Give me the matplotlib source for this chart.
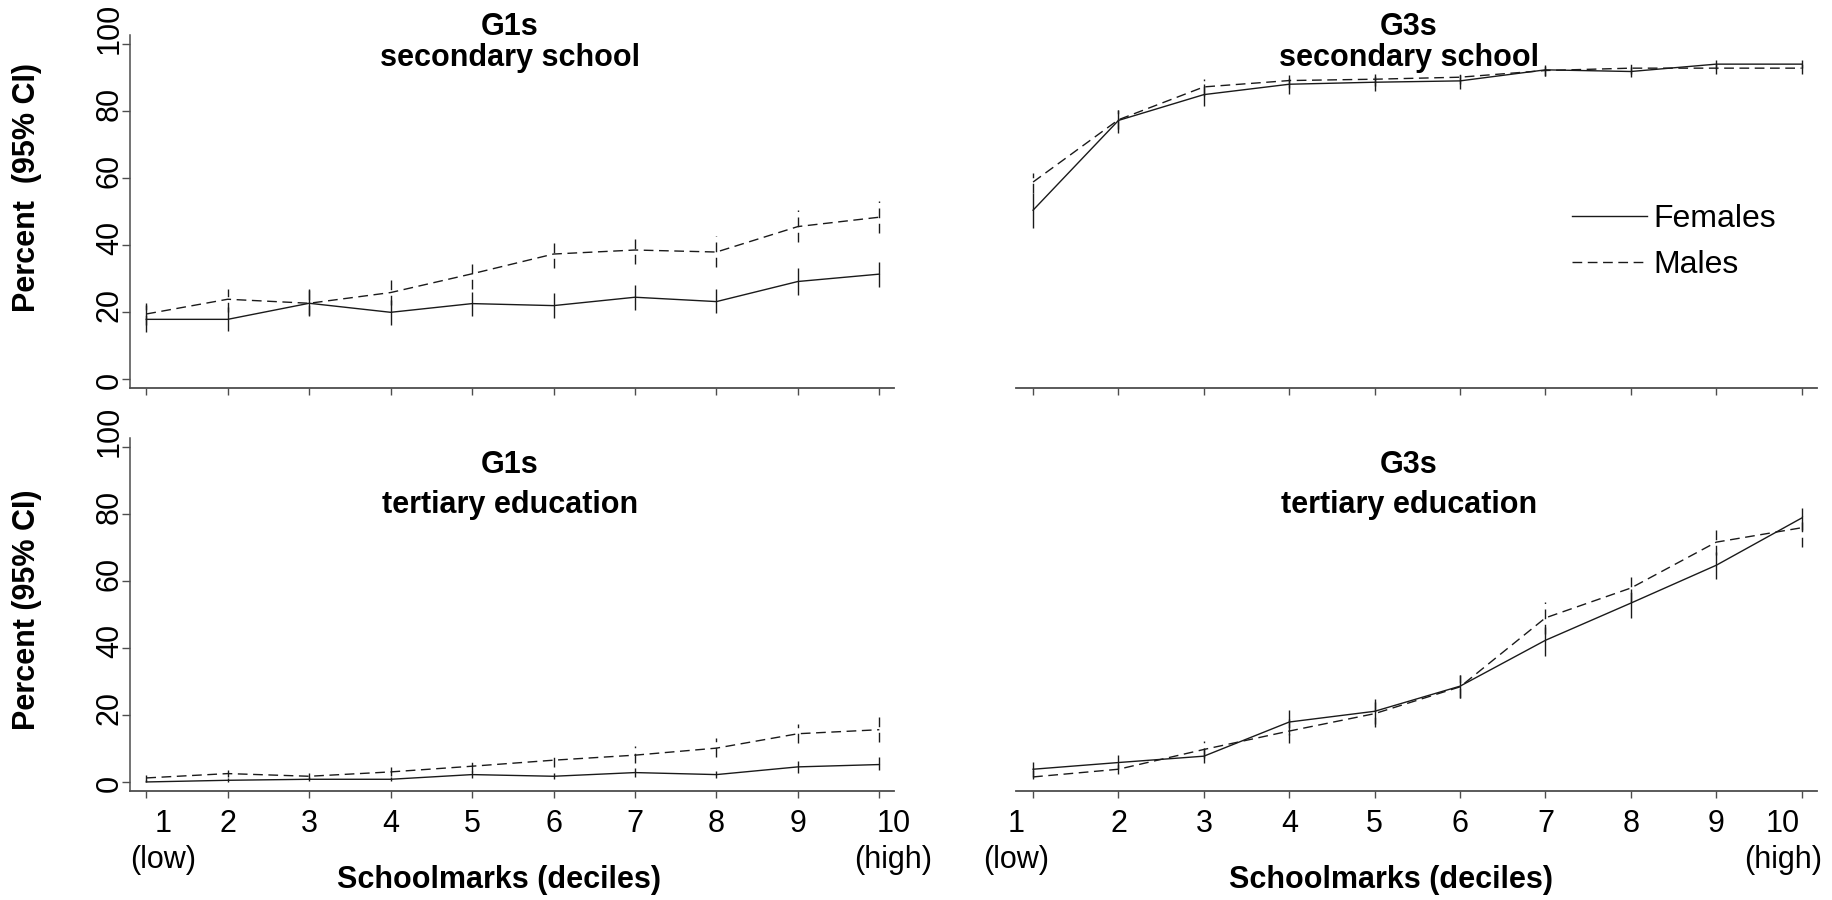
import numpy as np
import matplotlib
matplotlib.use('Agg')
import matplotlib.pyplot as plt
from matplotlib.transforms import ScaledTranslation

plt.rcParams['font.family'] = ['Liberation Sans', 'DejaVu Sans']

# deciles of schoolmarks
deciles = np.arange(1, 11)
tick_labels = ['1\n(low)', '2', '3', '4', '5', '6', '7', '8', '9', '10\n(high)']
y_ticks = [0, 20, 40, 60, 80, 100]

# G1s, secondary school
g1_sec_f = [17.8, 17.8, 22.6, 19.9, 22.5, 21.9, 24.4, 23.1, 29.1, 31.3]
g1_sec_f_lo = [14.0, 14.2, 18.8, 16.2, 18.8, 18.2, 20.6, 19.6, 25.2, 27.6]
g1_sec_f_hi = [22.0, 21.6, 26.8, 23.6, 26.0, 25.6, 28.2, 26.8, 33.0, 35.0]
g1_sec_m = [19.4, 23.8, 22.6, 25.8, 31.4, 37.3, 38.5, 37.9, 45.5, 48.3]
g1_sec_m_lo = [16.0, 20.0, 19.0, 22.0, 27.0, 33.0, 34.2, 33.5, 41.0, 43.5]
g1_sec_m_hi = [22.6, 26.8, 26.6, 29.6, 35.6, 41.7, 43.0, 42.7, 50.5, 53.2]

# G3s, secondary school
g3_sec_f = [50.4, 77.2, 84.9, 88.0, 88.6, 89.0, 92.3, 91.8, 94.0, 94.0]
g3_sec_f_lo = [45.0, 73.5, 81.4, 85.0, 86.0, 86.7, 90.6, 90.2, 92.6, 92.8]
g3_sec_f_hi = [55.6, 80.4, 88.0, 90.8, 91.2, 90.8, 93.8, 93.2, 95.2, 95.2]
g3_sec_m = [58.8, 77.4, 87.2, 89.1, 89.5, 90.1, 92.1, 92.8, 92.8, 92.8]
g3_sec_m_lo = [55.5, 74.5, 84.5, 87.0, 87.5, 88.0, 90.5, 91.2, 91.0, 91.0]
g3_sec_m_hi = [61.5, 80.2, 89.5, 91.0, 91.5, 92.0, 93.8, 94.3, 94.5, 94.5]

# G1s, tertiary education
g1_ter_f = [0.0, 0.5, 0.8, 0.8, 2.2, 1.7, 2.8, 2.2, 4.5, 5.2]
g1_ter_f_lo = [0.0, 0.0, 0.2, 0.2, 1.2, 0.8, 1.6, 1.2, 2.8, 3.5]
g1_ter_f_hi = [0.6, 1.2, 1.6, 1.6, 3.4, 2.8, 4.2, 3.4, 6.4, 7.4]
g1_ter_m = [1.2, 2.5, 1.7, 3.0, 4.7, 6.5, 8.0, 10.1, 14.4, 15.6]
g1_ter_m_lo = [0.4, 1.4, 0.8, 1.8, 3.0, 4.5, 5.6, 7.5, 11.6, 12.0]
g1_ter_m_hi = [2.2, 3.6, 2.6, 4.4, 6.6, 8.6, 10.6, 13.0, 17.2, 19.6]

# G3s, tertiary education
g3_ter_f = [3.8, 5.8, 7.7, 17.9, 21.1, 28.6, 42.3, 53.4, 64.7, 78.8]
g3_ter_f_lo = [1.5, 4.0, 5.7, 14.0, 17.4, 25.0, 37.5, 49.0, 60.7, 75.1]
g3_ter_f_hi = [6.0, 8.0, 10.0, 21.6, 24.9, 32.0, 46.3, 57.5, 68.7, 81.8]
g3_ter_m = [1.5, 3.8, 9.7, 15.2, 20.4, 28.4, 49.0, 57.9, 71.6, 75.9]
g3_ter_m_lo = [0.8, 2.5, 7.3, 11.6, 16.4, 25.0, 44.3, 53.7, 67.7, 70.3]
g3_ter_m_hi = [3.5, 5.5, 12.2, 18.9, 25.2, 32.0, 53.7, 62.2, 75.9, 79.5]

W, H = 1833, 900
line_c = '#1a1a1a'
axis_c = '#4d4d4d'
dash = (0, (7, 4))


def px_box(x0, y0, x1, y1):
    # pixel box (top-left origin) -> figure fraction rect
    return [x0 / W, 1 - y1 / H, (x1 - x0) / W, (y1 - y0) / H]


def shift(label, dx, dy):
    label.set_transform(label.get_transform() +
                        ScaledTranslation(dx / 100, dy / 100, fig.dpi_scale_trans))


def draw_panel(ax, f, f_lo, f_hi, m, m_lo, m_hi, left, bottom):
    ax.plot(deciles, f, color=line_c, lw=1.0, label='Females')
    ax.vlines(deciles, f_lo, f_hi, color=line_c, lw=1.0)
    ax.plot(deciles, m, color=line_c, lw=1.0, linestyle=dash, label='Males')
    ax.vlines(deciles, m_lo, m_hi, color=line_c, lw=1.0, linestyles=[dash])

    ax.set_xlim(0.8, 10.18)
    ax.set_ylim(-2.7, 102.7)
    ax.spines['top'].set_visible(False)
    ax.spines['right'].set_visible(False)
    ax.spines['bottom'].set_color(axis_c)
    ax.spines['bottom'].set_linewidth(1.3)
    ax.spines['left'].set_color(axis_c)
    ax.spines['left'].set_linewidth(1.1)

    ax.set_xticks(deciles)
    ax.set_xticklabels(tick_labels, fontsize=22, linespacing=1.25)
    ax.tick_params(axis='x', direction='out', length=5, width=1,
                   color=axis_c, pad=8, labelbottom=bottom)

    ax.set_yticks(y_ticks)
    ax.set_yticklabels([str(v) for v in y_ticks], fontsize=22, rotation=90,
                       rotation_mode='anchor', ha='left', va='baseline')
    ax.tick_params(axis='y', direction='out', length=6, width=1,
                   color=axis_c, pad=2.7)
    if left:
        # labels start a little below their tick, as in Stata
        for lab in ax.get_yticklabels():
            shift(lab, 0, -10)
    else:
        ax.spines['left'].set_visible(False)
        ax.tick_params(axis='y', left=False, labelleft=False)

    # Stata-style shift of the end labels
    if bottom:
        labs = ax.get_xticklabels()
        dx0, dx1 = (17, 14) if left else (-17, -19)
        shift(labs[0], dx0, 0)
        shift(labs[-1], dx1, 0)


fig = plt.figure(figsize=(W / 100, H / 100), dpi=100)

ax_tl = fig.add_axes(px_box(130, 35, 894, 388))
ax_tr = fig.add_axes(px_box(1016, 35, 1817, 388))
ax_bl = fig.add_axes(px_box(130, 438, 894, 791))
ax_br = fig.add_axes(px_box(1016, 438, 1817, 791))

draw_panel(ax_tl, g1_sec_f, g1_sec_f_lo, g1_sec_f_hi,
           g1_sec_m, g1_sec_m_lo, g1_sec_m_hi, True, False)
draw_panel(ax_tr, g3_sec_f, g3_sec_f_lo, g3_sec_f_hi,
           g3_sec_m, g3_sec_m_lo, g3_sec_m_hi, False, False)
draw_panel(ax_bl, g1_ter_f, g1_ter_f_lo, g1_ter_f_hi,
           g1_ter_m, g1_ter_m_lo, g1_ter_m_hi, True, True)
draw_panel(ax_br, g3_ter_f, g3_ter_f_lo, g3_ter_f_hi,
           g3_ter_m, g3_ter_m_lo, g3_ter_m_hi, False, True)

# panel titles
titles = [
    (510, 35, 66, 'G1s', 'secondary school'),
    (1409, 35, 66, 'G3s', 'secondary school'),
    (510, 473, 513, 'G1s', 'tertiary education'),
    (1409, 473, 513, 'G3s', 'tertiary education'),
]
for x, y1, y2, t1, t2 in titles:
    fig.text(x / W, 1 - y1 / H, t1, ha='center', va='baseline',
             fontsize=22, fontweight='bold')
    fig.text(x / W, 1 - y2 / H, t2, ha='center', va='baseline',
             fontsize=22, fontweight='bold')

# axis titles
fig.text(27 / W, 1 - 187 / H, 'Percent  (95% CI)', rotation=90,
         ha='center', va='center', fontsize=22, fontweight='bold')
fig.text(27 / W, 1 - 610 / H, 'Percent (95% CI)', rotation=90,
         ha='center', va='center', fontsize=22, fontweight='bold')
fig.text(499 / W, 1 - 888 / H, 'Schoolmarks (deciles)', ha='center',
         va='baseline', fontsize=22, fontweight='bold')
fig.text(1391 / W, 1 - 888 / H, 'Schoolmarks (deciles)', ha='center',
         va='baseline', fontsize=22, fontweight='bold')

# legend inside the G3s secondary panel
ax_tr.legend(loc='upper left', bbox_to_anchor=(1572 / W, 1 - 204 / H),
             bbox_transform=fig.transFigure, frameon=False, fontsize=23,
             handlelength=2.35, handletextpad=0.2, labelspacing=0.5,
             borderpad=0, borderaxespad=0)

fig.savefig('out.png', dpi=100, facecolor='white')
